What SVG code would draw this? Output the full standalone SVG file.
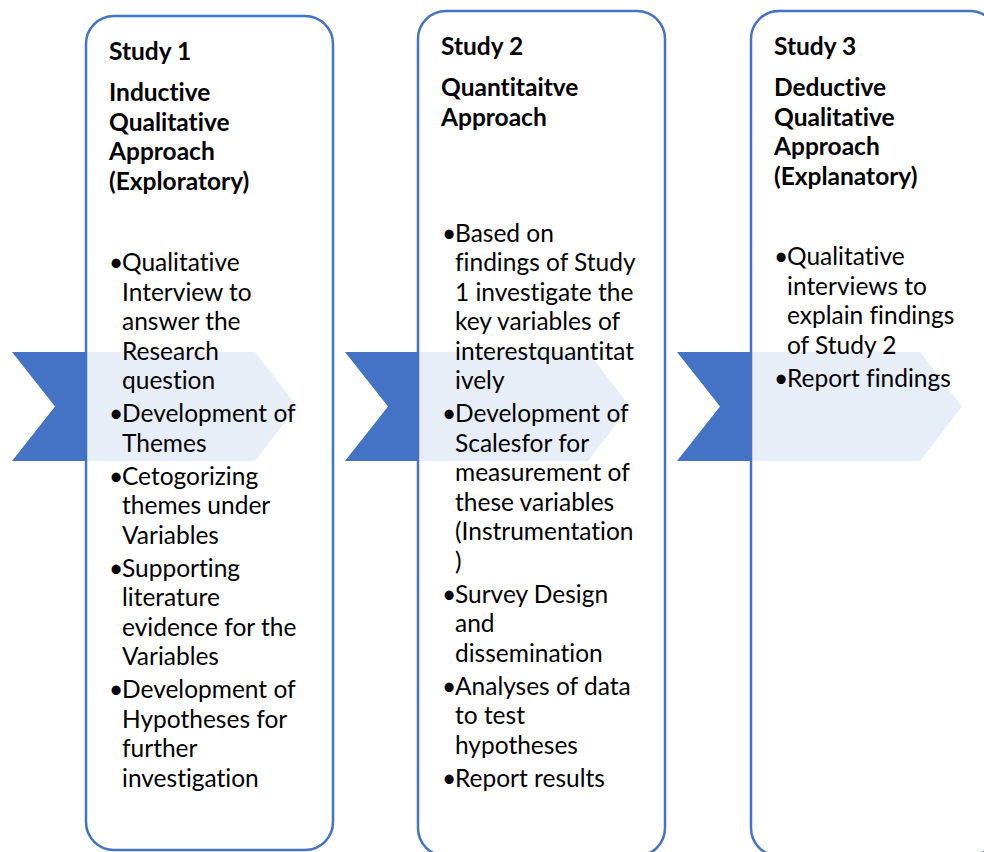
<svg xmlns="http://www.w3.org/2000/svg" width="984" height="852" viewBox="0 0 984 852">
<style>
.chev{fill:#4472C4}
.box{fill:#fff;fill-opacity:0.88;stroke:#4472C4;stroke-width:2.5}
.h{font-family:Lato,"Liberation Sans",sans-serif;font-weight:bold;font-size:24.5px;fill:#000;font-variant-ligatures:none}
.b{font-family:Lato,"Liberation Sans",sans-serif;font-size:24.5px;fill:#000;font-variant-ligatures:none}
</style>
<rect width="984" height="852" fill="#fff"/>
<g id="connectors">
<polygon class="chev" points="12,352 255,352 297,406.5 255,461 12,461 55,406.5"/>
<polygon class="chev" points="345,352 588,352 630,406.5 588,461 345,461 388,406.5"/>
<polygon class="chev" points="677,352 920,352 962,406.5 920,461 677,461 720,406.5"/>
</g>
<g id="study1">
<rect class="box" x="86" y="16" width="247" height="834" rx="28"/>
<text class="h" x="109" y="60">Study 1</text>
<text class="h" x="109" y="101">Inductive</text>
<text class="h" x="109" y="130.5">Qualitative</text>
<text class="h" x="109" y="160">Approach</text>
<text class="h" x="109" y="189.5">(Exploratory)</text>
<text class="b" x="109" y="271">•</text><text class="b" x="122" y="271">Qualitative</text>
<text class="b" x="122" y="300.5">Interview to</text>
<text class="b" x="122" y="330">answer the</text>
<text class="b" x="122" y="359.5">Research</text>
<text class="b" x="122" y="389">question</text>
<text class="b" x="109" y="422">•</text><text class="b" x="122" y="422">Development of</text>
<text class="b" x="122" y="451.5">Themes</text>
<text class="b" x="109" y="484.5">•</text><text class="b" x="122" y="484.5">Cetogorizing</text>
<text class="b" x="122" y="514">themes under</text>
<text class="b" x="122" y="543.5">Variables</text>
<text class="b" x="109" y="576.5">•</text><text class="b" x="122" y="576.5">Supporting</text>
<text class="b" x="122" y="606">literature</text>
<text class="b" x="122" y="635.5">evidence for the</text>
<text class="b" x="122" y="665">Variables</text>
<text class="b" x="109" y="698">•</text><text class="b" x="122" y="698">Development of</text>
<text class="b" x="122" y="727.5">Hypotheses for</text>
<text class="b" x="122" y="757">further</text>
<text class="b" x="122" y="786.5">investigation</text>
</g>
<g id="study2">
<rect class="box" x="418" y="11" width="247" height="845" rx="28"/>
<text class="h" x="441" y="55">Study 2</text>
<text class="h" x="441" y="96">Quantitaitve</text>
<text class="h" x="441" y="125.5">Approach</text>
<text class="b" x="442" y="241.5">•</text><text class="b" x="455" y="241.5">Based on</text>
<text class="b" x="455" y="271">findings of Study</text>
<text class="b" x="455" y="300.5">1 investigate the</text>
<text class="b" x="455" y="330">key variables of</text>
<text class="b" x="455" y="359.5">interestquantitat</text>
<text class="b" x="455" y="389">ively</text>
<text class="b" x="442" y="422">•</text><text class="b" x="455" y="422">Development of</text>
<text class="b" x="455" y="451.5">Scalesfor for</text>
<text class="b" x="455" y="481">measurement of</text>
<text class="b" x="455" y="510.5">these variables</text>
<text class="b" x="455" y="540">(Instrumentation</text>
<text class="b" x="455" y="569.5">)</text>
<text class="b" x="442" y="602.5">•</text><text class="b" x="455" y="602.5">Survey Design</text>
<text class="b" x="455" y="632">and</text>
<text class="b" x="455" y="661.5">dissemination</text>
<text class="b" x="442" y="694.5">•</text><text class="b" x="455" y="694.5">Analyses of data</text>
<text class="b" x="455" y="724">to test</text>
<text class="b" x="455" y="753.5">hypotheses</text>
<text class="b" x="442" y="786.5">•</text><text class="b" x="455" y="786.5">Report results</text>
</g>
<g id="study3">
<rect class="box" x="751" y="11" width="247" height="845" rx="28"/>
<text class="h" x="774" y="55">Study 3</text>
<text class="h" x="774" y="96">Deductive</text>
<text class="h" x="774" y="125.5">Qualitative</text>
<text class="h" x="774" y="155">Approach</text>
<text class="h" x="774" y="184.5">(Explanatory)</text>
<text class="b" x="774" y="265">•</text><text class="b" x="787" y="265">Qualitative</text>
<text class="b" x="787" y="294.5">interviews to</text>
<text class="b" x="787" y="324">explain findings</text>
<text class="b" x="787" y="353.5">of Study 2</text>
<text class="b" x="774" y="386.5">•</text><text class="b" x="787" y="386.5">Report findings</text>
</g>
</svg>
